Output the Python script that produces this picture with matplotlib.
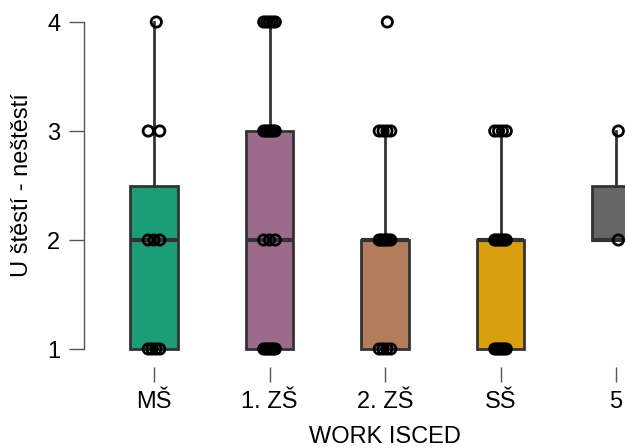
import numpy as np
import matplotlib
matplotlib.use("Agg")
import matplotlib.pyplot as plt

plt.rcParams['font.family'] = ['Liberation Sans', 'DejaVu Sans']

categories = ["MŠ", "1. ZŠ", "2. ZŠ", "SŠ", "5"]
colors = ["#1B9E77", "#9C6B8C", "#B37C5A", "#D8A00F", "#666666"]

# box statistics
q1 = [1, 1, 1, 1, 2]
med = [2, 2, 2, 2, 2]
q3 = [2.5, 3, 2, 2, 2.5]
whislo = [1, 1, 1, 1, 2]
whishi = [4, 4, 3, 3, 3]

# raw observations (value: count) per category, estimated
obs_values = [1, 2, 3, 4]
obs_counts = [
    [4, 3, 2, 1],   # MŠ
    [6, 3, 6, 5],   # 1. ZŠ
    [4, 6, 4, 1],   # 2. ZŠ
    [6, 6, 4, 0],   # SŠ
    [0, 1, 1, 0],   # 5
]

ytick_vals = [1, 2, 3, 4]
xlabel = "WORK ISCED"
ylabel = "U štěstí - neštěstí"

W, H = 625, 448
fig = plt.figure(figsize=(W / 100, H / 100), dpi=100)

# axes spanning beyond right edge (reference is cropped)
left_px, right_px = 84, 686
top_px, bot_px = 10, 360
ax = fig.add_axes([left_px / W, 1 - bot_px / H, (right_px - left_px) / W, (bot_px - top_px) / H])

ppu = 109.0
ax.set_ylim(1 - (bot_px - 349) / ppu, 1 + (349 - top_px) / ppu)
xspan = (right_px - left_px) / 115.5
x0 = -(154 - left_px) / 115.5
ax.set_xlim(x0, x0 + xspan)

pos = np.arange(len(categories))
stats = []
for i in range(len(categories)):
    stats.append(dict(q1=q1[i], med=med[i], q3=q3[i], whislo=whislo[i], whishi=whishi[i], fliers=[]))

edge = "#333333"
bp = ax.bxp(stats, positions=pos, widths=0.41, patch_artist=True, showcaps=False,
            boxprops=dict(edgecolor=edge, linewidth=2.0),
            whiskerprops=dict(color=edge, linewidth=2.0),
            medianprops=dict(color=edge, linewidth=3.0),
            zorder=2)
for patch, c in zip(bp['boxes'], colors):
    patch.set_facecolor(c)

# jittered points (deterministic spread)
for i in range(len(categories)):
    for v, n in zip(obs_values, obs_counts[i]):
        if n == 0:
            continue
        if n == 1:
            offs = np.array([0.02])
        else:
            offs = np.linspace(-0.05, 0.05, n)
        ax.scatter(pos[i] + offs, [v] * n, s=55, facecolors='none', edgecolors='black',
                   linewidths=2.0, zorder=4)

ax.spines['top'].set_visible(False)
ax.spines['right'].set_visible(False)
ax.spines['bottom'].set_visible(False)
ax.spines['bottom'].set_position(('outward', 5))
ax.spines['left'].set_bounds(1, 4)
ax.spines['left'].set_color('#555555')
ax.spines['left'].set_linewidth(1.0)

ax.set_yticks(ytick_vals)
ax.set_yticklabels([str(v) for v in ytick_vals])
ax.set_xticks(pos)
ax.set_xticklabels(categories)
ax.tick_params(axis='y', length=11, width=1.0, color='#555555', labelsize=17, pad=6)
ax.tick_params(axis='x', length=11, width=1.0, color='#555555', labelsize=17, pad=6)

fig.text(22 / W, 1 - 185 / H, ylabel, rotation=90, ha='center', va='center', fontsize=17)
fig.text(385 / W, 1 - 437 / H, xlabel, ha='center', va='center', fontsize=17)

fig.savefig("out.png", dpi=100)
